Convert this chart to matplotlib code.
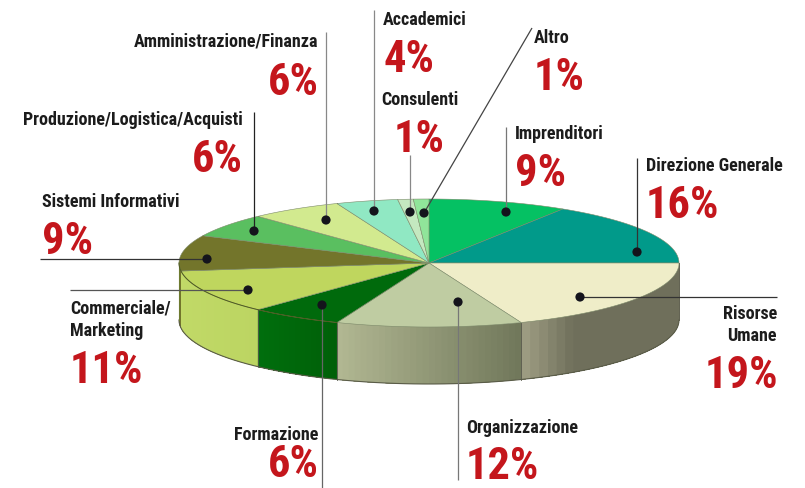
import numpy as np
import matplotlib
matplotlib.use('Agg')
import matplotlib.pyplot as plt
from matplotlib import font_manager
from matplotlib.colors import to_rgb
from matplotlib.patches import Polygon, Circle

# clockwise from the top of the pie
categories = ['Imprenditori', 'Direzione Generale', 'Risorse\nUmane', 'Organizzazione',
              'Formazione', 'Commerciale/\nMarketing', 'Sistemi Informativi',
              'Produzione/Logistica/Acquisti', 'Amministrazione/Finanza', 'Accademici',
              'Consulenti', 'Altro']
values = [9, 16, 19, 12, 6, 11, 9, 6, 6, 4, 1, 1]
top_colors = ['#05c163', '#019a8a', '#efedc8', '#bfcca2', '#006a0c', '#bfd65e',
              '#73752b', '#5abf60', '#d2ea8f', '#90e8c3', '#c4e8c0', '#90e59a']
wall_start = ['#05c163', '#019a8a', '#6f6f5b', '#70775a', '#006008', '#bcd562',
              '#73752b', '#5abf60', '#d2ea8f', '#90e8c3', '#c4e8c0', '#90e59a']
wall_end = ['#05c163', '#019a8a', '#a09f84', '#b2b893', '#006f0d', '#c2da68',
            '#73752b', '#5abf60', '#d2ea8f', '#90e8c3', '#c4e8c0', '#90e59a']
# where along the slice the wall colour starts to change
wall_ramp = [0, 0, 0.8, 0, 0, 0, 0, 0, 0, 0, 0, 0]

# pixel positions of the callouts
dots = [(506, 212), (637, 252), (580, 297), (458, 302), (322, 305), (248, 290),
        (207, 259), (254, 231), (326, 220), (374, 211), (410, 212), (424, 213)]
line_ends = [(506, 127), (637, 158), (777, 297), (458, 480), (322, 488), (70, 290),
             (40, 259), (254, 112), (326, 32), (374, 10), (410, 155), (532, 28)]
line_colors = ['#777777', '#333333', '#333333', '#777777', '#666666', '#555555',
               '#333333', '#222222', '#888888', '#888888', '#888888', '#444444']
label_pos = [(515, 134, 'left'), (646, 166, 'left'), (777, 325, 'right'), (466, 428, 'left'),
             (318, 435, 'right'), (70, 320, 'left'), (42, 202, 'left'), (243, 120, 'right'),
             (318, 42, 'right'), (383, 20, 'left'), (381, 100, 'left'), (534, 38, 'left')]
pct_pos = [(515, 174, 'left'), (646, 206, 'left'), (778, 376, 'right'), (466, 467, 'left'),
           (319, 465, 'right'), (70, 371, 'left'), (42, 242, 'left'), (243, 160, 'right'),
           (319, 83, 'right'), (383, 60, 'left'), (394, 140, 'left'), (534, 78, 'left')]

CX, CY = 429, 263
RX, RY = 250, 64
DEPTH = 57

names = {f.name for f in font_manager.fontManager.ttflist}
if 'Roboto Condensed' in names:
    FONT, LABEL_SIZE, PCT_SIZE = 'Roboto Condensed', 13, 32
else:
    FONT, LABEL_SIZE, PCT_SIZE = 'Liberation Sans', 11, 27


def ellipse_points(a1, a2, n=80):
    t = np.radians(np.linspace(a1, a2, n))
    return CX + RX * np.cos(t), CY - RY * np.sin(t)


def main():
    fig = plt.figure(figsize=(8.05, 4.88), dpi=100)
    ax = fig.add_axes([0, 0, 1, 1])
    ax.set_xlim(0, 805)
    ax.set_ylim(488, 0)
    ax.axis('off')

    angles = 90 - np.cumsum([0] + values) * 3.6

    # side wall, only the front half is visible
    for i, v in enumerate(values):
        lo, hi = max(angles[i + 1], -180), min(angles[i], 0)
        if lo >= hi:
            continue
        c1, c2 = np.array(to_rgb(wall_start[i])), np.array(to_rgb(wall_end[i]))
        bands = 30
        edges = np.linspace(hi, lo, bands + 1)
        for k in range(bands):
            # each band runs to the end of the slice so no seams show
            x, y = ellipse_points(edges[k], lo, 40)
            f = max(0, ((k + 0.5) / bands - wall_ramp[i]) / (1 - wall_ramp[i]))
            col = c1 + (c2 - c1) * f
            pts = np.r_[np.c_[x, y], np.c_[x[::-1], y[::-1] + DEPTH]]
            ax.add_patch(Polygon(pts, fc=col, ec='none', zorder=2))

    # wall outline
    x, y = ellipse_points(0, -180)
    ax.plot(x, y + DEPTH, color='#5a5c48', lw=0.8, zorder=3)
    ax.plot([CX + RX] * 2, [CY, CY + DEPTH], color='#5e5e4e', lw=0.7, zorder=3)
    ax.plot([CX - RX] * 2, [CY, CY + DEPTH], color='#6d7a30', lw=0.8, zorder=3)
    for a in angles[3:6]:
        px, py = ellipse_points(a, a, 1)
        ax.plot([px[0], px[0]], [py[0], py[0] + DEPTH], color='#55574a', lw=0.6, zorder=3)

    # top surface
    for i, c in enumerate(top_colors):
        x, y = ellipse_points(angles[i], angles[i + 1])
        pts = np.r_[[[CX, CY]], np.c_[x, y]]
        ax.add_patch(Polygon(pts, fc=c, ec='#7d8a6a', lw=0.4, zorder=4))
    x, y = ellipse_points(-111.6, -180)
    ax.plot(x, y, color='#4f5a20', lw=0.7, zorder=4)

    # callouts
    for i, name in enumerate(categories):
        dx, dy = dots[i]
        ex, ey = line_ends[i]
        ax.plot([dx, ex], [dy, ey], color=line_colors[i], lw=0.9, zorder=5, solid_capstyle='butt')
        ax.add_patch(Circle((dx, dy), 4.6, fc='#14141c', ec='none', zorder=6))
        lx, ly, ha = label_pos[i]
        ax.text(lx, ly, name, family=FONT, fontweight='bold', fontsize=LABEL_SIZE, color='#1c1c1c',
                ha=ha, va='center', linespacing=1.3, zorder=7)
        px, py, ha = pct_pos[i]
        ax.text(px, py, f'{values[i]}%', family=FONT, fontweight='bold', fontsize=PCT_SIZE,
                color='#c4161c', ha=ha, va='center', zorder=7)

    fig.savefig('out.png', dpi=100)


if __name__ == '__main__':
    main()
